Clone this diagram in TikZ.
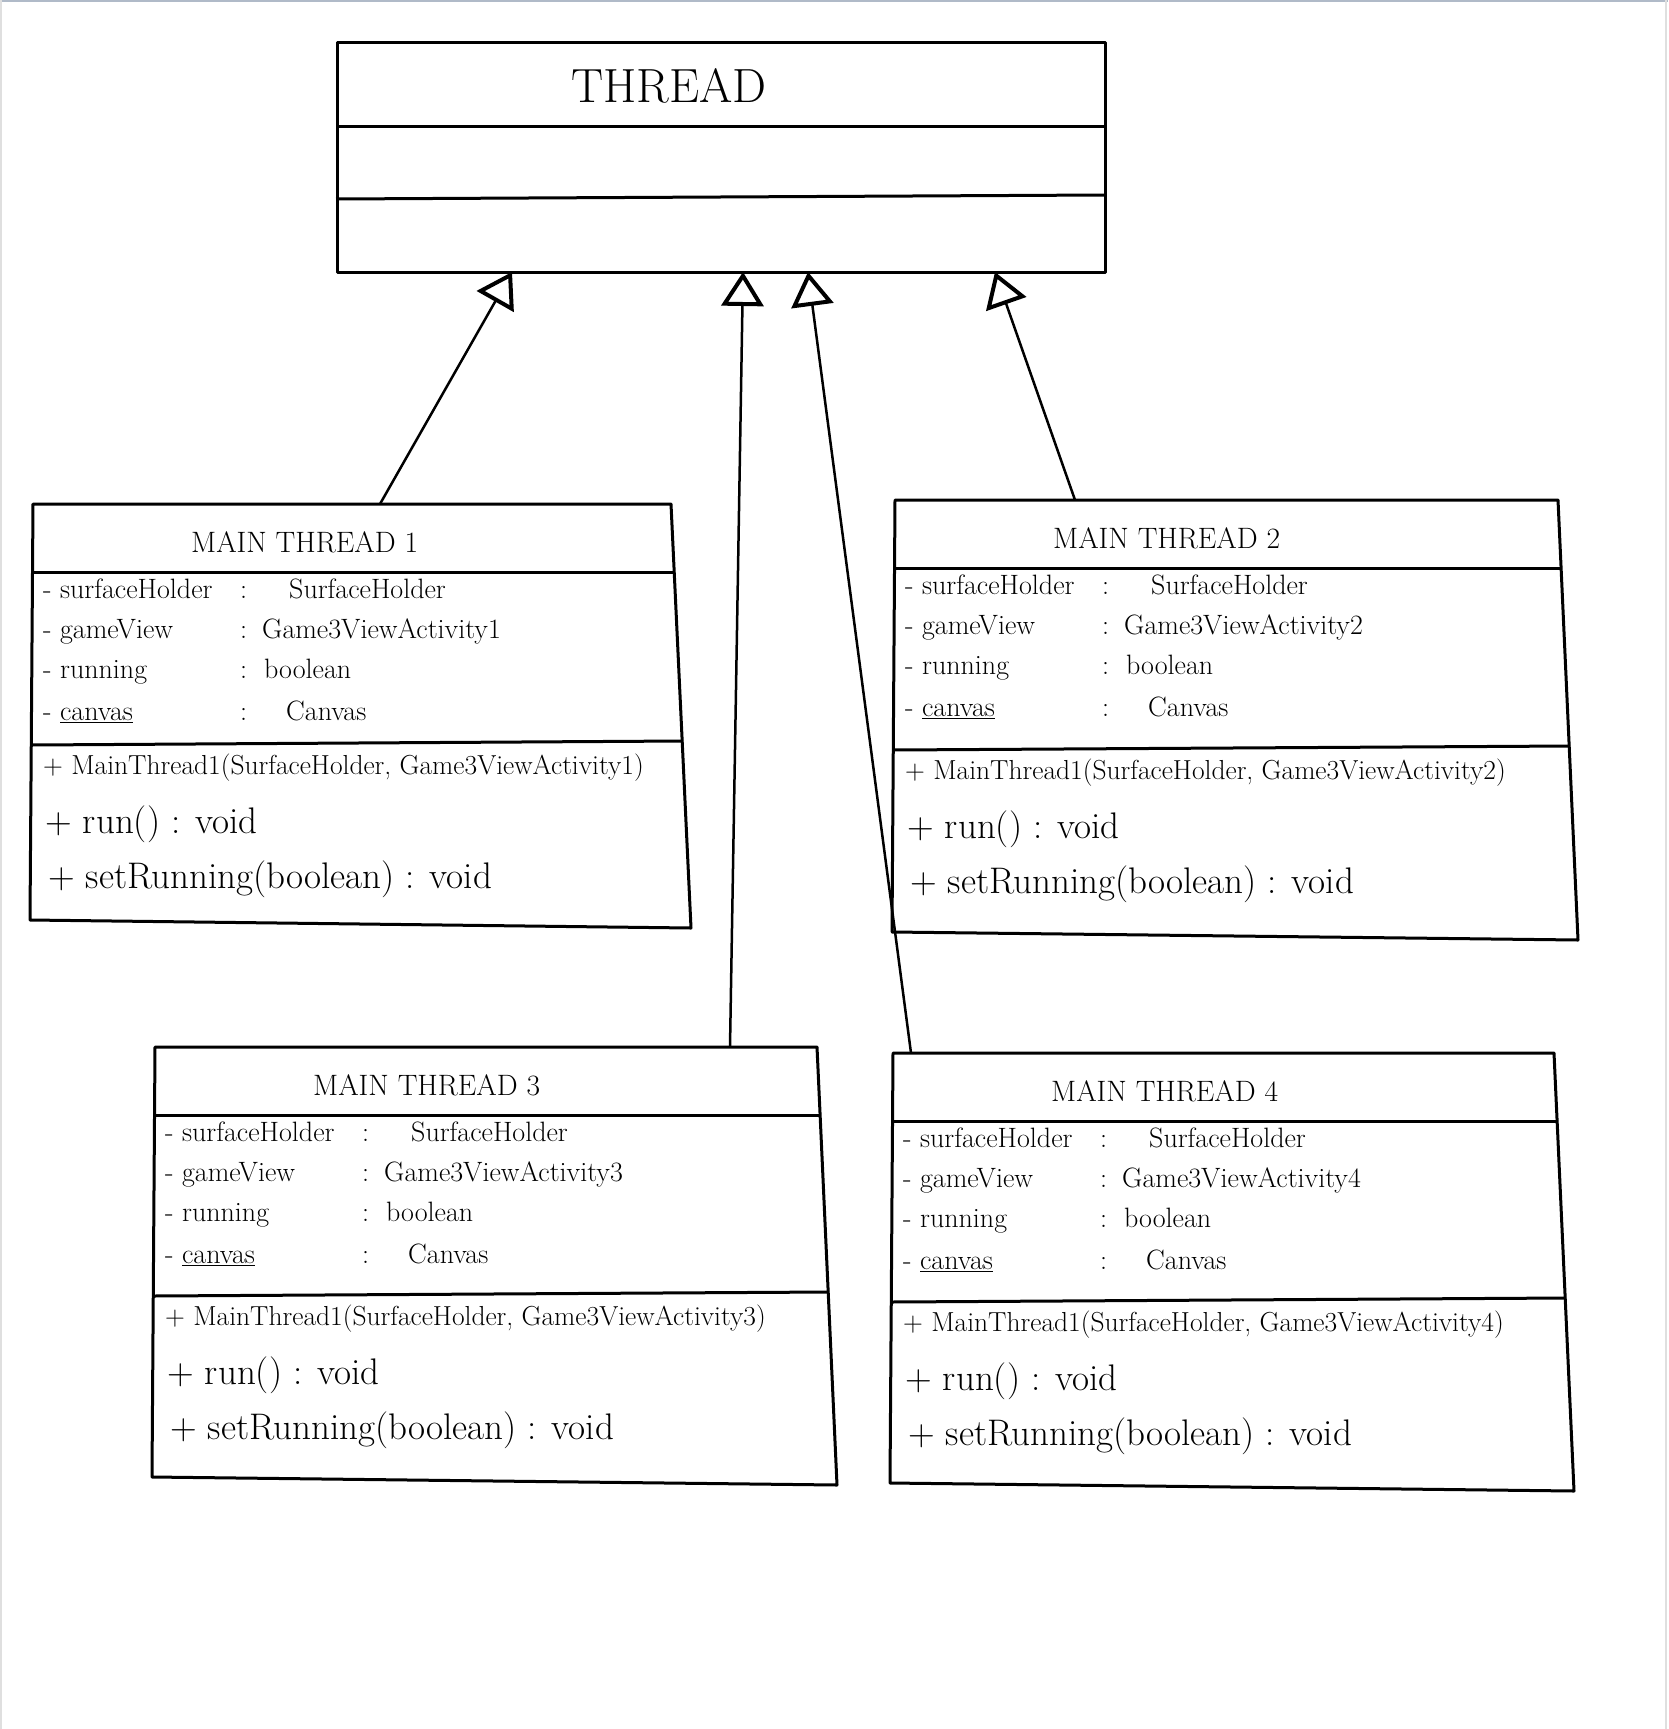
\documentclass[tikz,border=0pt]{standalone}
\usepackage{fontspec}
\usetikzlibrary{arrows.meta}
\definecolor{framegray}{RGB}{176,186,200}
\tikzset{
  classbox/.style={line width=3pt, line join=round},
  inherit/.style={line width=2.5pt, -{Triangle[open, length=34pt, width=42pt, line width=4pt]}},
  classname/.style={font=\fontsize{29.5}{31}\selectfont, anchor=west, inner sep=0pt},
  attr/.style={font=\fontsize{28}{30}\selectfont, anchor=mid west, inner sep=0pt},
  ctor/.style={font=\fontsize{27.5}{29}\selectfont, anchor=mid west, inner sep=0pt},
  meth/.style={font=\fontsize{37}{39}\selectfont, anchor=mid west, inner sep=0pt},
}
\begin{document}
\begin{tikzpicture}[x=1pt,y=-1pt]
\useasboundingbox (0,0) rectangle (1668,1729);
% page frame
\draw[framegray, line width=2.5pt] (0,1.2) -- (1668,1.2);
\draw[gray!25, line width=2pt] (1,0) -- (1,1729) (1666,0) -- (1666,1729);

% super class
\node[classbox, draw, minimum width=768pt, minimum height=230pt, anchor=north west, inner sep=0pt] (thread) at (336,41) {};
\draw[classbox] (336,126) -- (1104,126);
\draw[classbox] (336,199) -- (1104,195);
\node[font=\fontsize{48}{50}\selectfont] (thread-name) at (669,86) {THREAD};

% sub classes
\foreach \n/\x/\y/\w/\h/\d in {1/33/504/638/416/241, 2/895/500/663/432/250, 3/155/1047/662/430/249, 4/893/1053/661/430/249} {
  \draw[classbox] (\x,\y) -- ({\x+\w},\y) -- ({\x+\w+20},{\y+\h+8}) -- ({\x-3},{\y+\h}) -- cycle;
  \draw[classbox] ({\x-1},{\y+68}) -- ({\x+\w+3},{\y+68});
  \draw[classbox] ({\x-2},{\y+\d}) -- ({\x+\w+12},{\y+\d-4});
  \node[classname] (mt\n) at ({\x+158},{\y+38}) {MAIN THREAD \n};
  \foreach \dy/\nm/\tx/\ty in {92/surfaceHolder/256/SurfaceHolder, 132/gameView/229/Game3ViewActivity\n, 172/running/231/boolean, 214/\underline{canvas}/253/Canvas} {
    \node[attr] (mt\n-nm\dy) at ({\x+10},{\y+\dy}) {- \nm};
    \node[attr] (mt\n-col\dy) at ({\x+207},{\y+\dy}) {:};
    \node[attr] (mt\n-ty\dy) at ({\x+\tx},{\y+\dy}) {\ty};
  }
  \node[ctor] (mt\n-ctor) at ({\x+10},{\y+\d+27}) {+ MainThread1(SurfaceHolder, Game3ViewActivity\n)};
  \node[meth] (mt\n-run) at ({\x+12},{\y+\d+86}) {+ run() : void};
  \node[meth] (mt\n-set) at ({\x+15},{\y+\d+141}) {+ setRunning(boolean) : void};
}

% inheritance
\coordinate (b1) at (380,504);
\coordinate (b2) at (1075,500);
\coordinate (b3) at (730,1047);
\coordinate (b4) at (911,1053);
\coordinate (p1) at (512,272);
\coordinate (p2) at (995,272);
\coordinate (p3) at (743,272);
\coordinate (p4) at (808,272);
\foreach \i in {1,...,4}
  \draw[inherit] (b\i) -- (p\i);
\end{tikzpicture}
\end{document}
